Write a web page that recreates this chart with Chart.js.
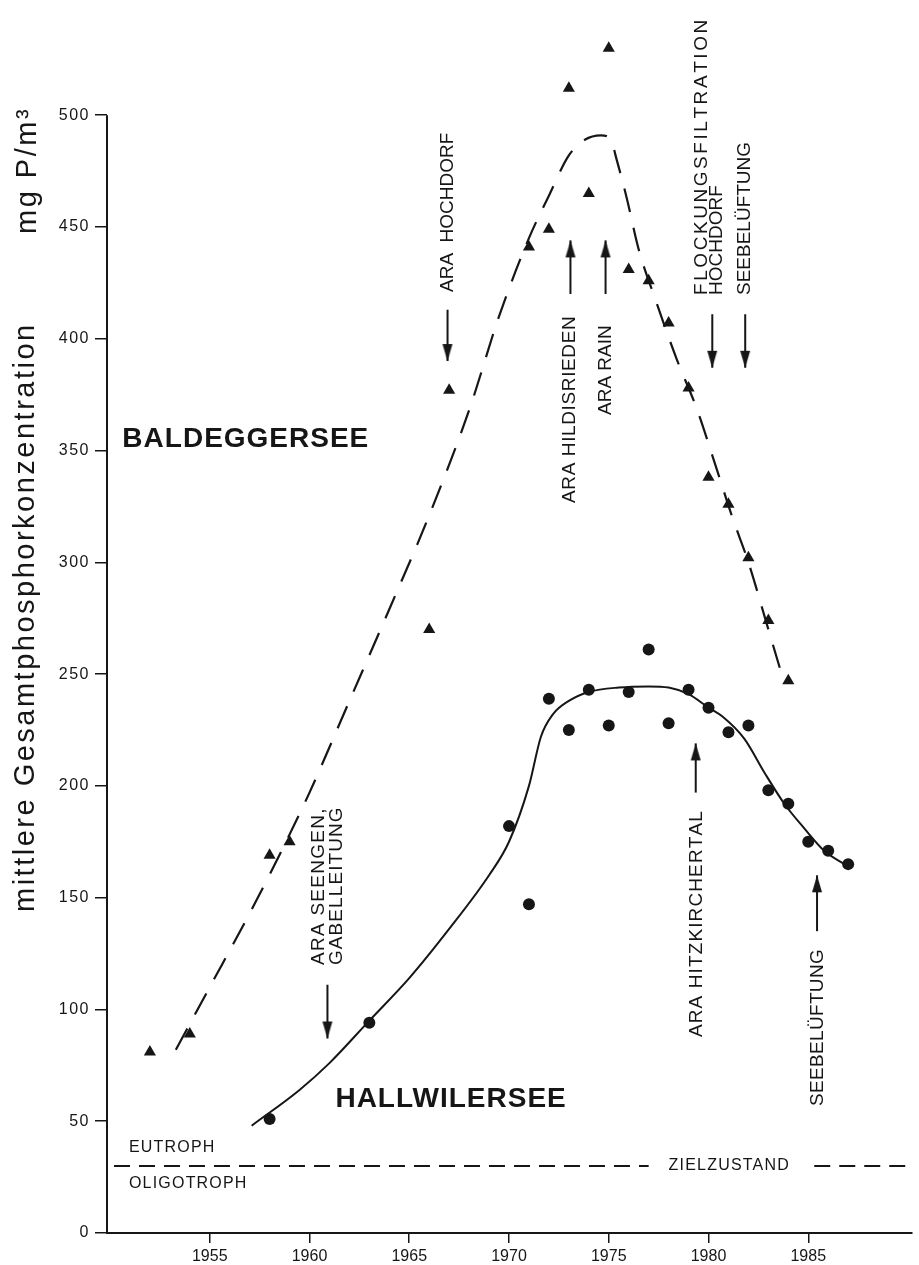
<!DOCTYPE html>
<html lang="de">
<head>
<meta charset="UTF-8">
<title>Gesamtphosphor Baldeggersee / Hallwilersee</title>
<script src="https://cdn.jsdelivr.net/npm/chart.js"></script>
<style>
    body { margin: 0; background: #ffffff; }
    #wrap { width: 919px; height: 1265px; position: relative; }
</style>
</head>
<body>
<div id="wrap"><canvas id="chart"></canvas></div>
<script>
// ---- Messwerte (Jahresmittel, mg P/m3) ----
var baldYears  = [1952, 1954, 1958, 1959, 1966, 1967, 1971, 1972, 1973, 1974, 1975, 1976, 1977, 1978, 1979, 1980, 1981, 1982, 1983, 1984];
var baldValues = [81, 89, 169, 175, 270, 377, 441, 449, 512, 465, 530, 431, 426, 407, 378, 338, 326, 302, 274, 247];
var hallYears  = [1958, 1963, 1970, 1971, 1972, 1973, 1974, 1975, 1976, 1977, 1978, 1979, 1980, 1981, 1982, 1983, 1984, 1985, 1986, 1987];
var hallValues = [51, 94, 182, 147, 239, 225, 243, 227, 242, 261, 228, 243, 235, 224, 227, 198, 192, 175, 171, 165];

// ---- Ausgleichskurven (von Hand gezeichnet) ----
var baldCurveX = [1953.3, 1955, 1957, 1958.6, 1960, 1962, 1964, 1966, 1968, 1969.5, 1971, 1972, 1973, 1973.8, 1974.6, 1975.1, 1975.4, 1975.9, 1976.5, 1977.4, 1978.4, 1979.4, 1980.4, 1981.2, 1982, 1983, 1983.6];
var baldCurveY = [82, 110, 143, 171, 197, 238, 279, 321, 368, 410, 445, 464, 482, 489, 491, 489, 480, 463, 440, 416, 391, 369, 342, 320, 300, 270, 252];
var hallCurveX = [1957.1, 1959.5, 1961, 1963, 1965, 1967, 1969, 1970, 1971, 1971.6, 1972.2, 1973, 1974, 1975.5, 1977, 1978, 1979, 1980, 1980.7, 1981.8, 1982.8, 1983.8, 1984.8, 1985.8, 1987];
var hallCurveY = [48, 64, 76, 95, 114, 136, 160, 175, 200, 222, 232, 238, 242, 244, 244.5, 244, 241, 235, 231, 221, 206, 192, 181, 171, 164];

// Zielzustand-Linie (Lücke für die Beschriftung)
var zielX = [1950.2, 1977.0, 1981.0, 1985.3, 1990.2];
var zielY = [30, 30, null, 30, 30];

var xTicks = [1955, 1960, 1965, 1970, 1975, 1980, 1985];
var yTicks = [0, 50, 100, 150, 200, 250, 300, 350, 400, 450, 500];

// Massnahmen: Pfeil (x, von, bis)
var arrowX    = [1966.92, 1973.08, 1974.84, 1980.19, 1981.84, 1960.9, 1979.36, 1985.44];
var arrowFrom = [413, 420, 420, 411, 411, 111, 197, 135];
var arrowTo   = [390, 444, 444, 387, 387, 87, 219, 160];

// senkrechte Beschriftungen (x, unteres und oberes Ende)
var vertText = ['ARA  HOCHDORF', 'ARA HILDISRIEDEN', 'ARA RAIN', 'FLOCKUNGSFILTRATION', 'HOCHDORF', 'SEEBELÜFTUNG',
                'ARA SEENGEN,', 'GABELLEITUNG', 'ARA HITZKIRCHERTAL', 'SEEBELÜFTUNG'];
var vertX      = [1966.92, 1973.08, 1974.84, 1979.69, 1980.44, 1981.81, 1960.5, 1961.4, 1979.44, 1985.5];
var vertBottom = [421, 326.5, 366, 419.5, 419.5, 419.5, 120, 120, 87.6, 56.6];
var vertTop    = [491, 410, 405.5, 542.6, 461.5, 487.3, 190, 190.5, 188.6, 126.7];

var ink = '#161616';
var font = "'Liberation Sans', Arial, sans-serif";

function makeHead() {
    var c = document.createElement('canvas');
    c.width = 12; c.height = 36;
    var g = c.getContext('2d');
    g.fillStyle = ink;
    g.beginPath();
    g.moveTo(6, 18); g.lineTo(11, 35); g.lineTo(1, 35);
    g.closePath(); g.fill();
    return c;
}
var head = makeHead();

function pts(xs, ys) {
    return xs.map(function (x, i) { return { x: x, y: ys[i] }; });
}

var datasets = [
    {
        label: 'Baldeggersee Kurve', data: pts(baldCurveX, baldCurveY), showLine: true,
        borderColor: ink, borderWidth: 2.2, borderDash: [24, 16], pointRadius: 0,
        cubicInterpolationMode: 'monotone', clip: false
    },
    {
        label: 'Hallwilersee Kurve', data: pts(hallCurveX, hallCurveY), showLine: true,
        borderColor: ink, borderWidth: 2, pointRadius: 0,
        cubicInterpolationMode: 'monotone', clip: false
    },
    {
        label: 'Zielzustand', data: pts(zielX, zielY), showLine: true, spanGaps: false,
        borderColor: ink, borderWidth: 2, borderDash: [16, 9], pointRadius: 0, clip: false
    },
    {
        label: 'Baldeggersee', data: pts(baldYears, baldValues), pointStyle: 'triangle',
        pointRadius: 7, backgroundColor: ink, borderColor: ink, borderWidth: 0, clip: false
    },
    {
        label: 'Hallwilersee', data: pts(hallYears, hallValues), pointStyle: 'circle',
        pointRadius: 6, backgroundColor: ink, borderColor: ink, borderWidth: 0, clip: false
    }
];

arrowX.forEach(function (x, i) {
    var up = arrowTo[i] > arrowFrom[i];
    datasets.push({
        label: 'Pfeil ' + i,
        data: [{ x: x, y: arrowFrom[i] }, { x: x, y: arrowTo[i] }],
        showLine: true, borderColor: ink, borderWidth: 2,
        pointStyle: [false, head], pointRadius: [0, 5], pointRotation: [0, up ? 0 : 180],
        clip: false
    });
});

// y-Beschriftung leicht gesperrt wie im Original
function spaceLabels(scale, spacing) {
    if (scale._spaced) return;
    var orig = scale.drawLabels.bind(scale);
    scale.drawLabels = function (area) {
        var ctx = scale.ctx;
        ctx.save();
        ctx.letterSpacing = spacing;
        orig(area);
        ctx.restore();
    };
    scale._spaced = true;
}

// Buchstabe für Buchstabe, damit die Sperrung gleichmässig bleibt
function spacedText(ctx, t, len) {
    var widths = t.split('').map(function (c) { return ctx.measureText(c).width; });
    var total = widths.reduce(function (a, b) { return a + b; }, 0);
    var gap = Math.max(0, (len - total) / (t.length - 1));
    var pos = 0;
    t.split('').forEach(function (c, i) {
        ctx.fillText(c, pos, 0);
        pos += widths[i] + gap;
    });
}

var textPlugin = {
    id: 'texte',
    afterLayout: function (chart) {
        spaceLabels(chart.scales.y, '1.5px');
    },
    afterDraw: function (chart) {
        var ctx = chart.ctx;
        var xs = chart.scales.x, ys = chart.scales.y;
        ctx.save();
        ctx.fillStyle = ink;
        ctx.strokeStyle = ink;

        // y-Achse nur bis 500
        ctx.lineWidth = 2;
        ctx.beginPath();
        ctx.moveTo(xs.left, ys.getPixelForValue(0) + 1);
        ctx.lineTo(xs.left, ys.getPixelForValue(500));
        ctx.stroke();

        ctx.font = '19px ' + font;
        ctx.letterSpacing = '0px';
        ctx.textAlign = 'left';
        ctx.textBaseline = 'middle';
        vertText.forEach(function (t, i) {
            var y0 = ys.getPixelForValue(vertBottom[i]);
            var len = y0 - ys.getPixelForValue(vertTop[i]);
            ctx.save();
            ctx.translate(Math.round(xs.getPixelForValue(vertX[i])), Math.round(y0));
            ctx.rotate(-Math.PI / 2);
            spacedText(ctx, t, len);
            ctx.restore();
        });

        // Seenamen
        ctx.font = 'bold 28px ' + font;
        ctx.letterSpacing = '1px';
        ctx.fillText('BALDEGGERSEE', xs.getPixelForValue(1950.62), ys.getPixelForValue(355));
        ctx.fillText('HALLWILERSEE', xs.getPixelForValue(1961.3), ys.getPixelForValue(60));

        // Trophie
        ctx.font = '16px ' + font;
        ctx.letterSpacing = '1.2px';
        ctx.fillText('EUTROPH', xs.getPixelForValue(1950.95), ys.getPixelForValue(38));
        ctx.fillText('OLIGOTROPH', xs.getPixelForValue(1950.95), ys.getPixelForValue(22));
        ctx.fillText('ZIELZUSTAND', xs.getPixelForValue(1978.0), ys.getPixelForValue(30));

        // Achsentitel
        ctx.font = '29px ' + font;
        ctx.letterSpacing = '2.5px';
        ctx.textBaseline = 'alphabetic';
        ctx.save();
        ctx.translate(34, 912);
        ctx.rotate(-Math.PI / 2);
        ctx.fillText('mittlere Gesamtphosphorkonzentration', 0, 0);
        ctx.restore();
        ctx.save();
        ctx.translate(36, 234);
        ctx.rotate(-Math.PI / 2);
        ctx.fillText('mg P/m³', 0, 0);
        ctx.restore();

        ctx.restore();
    }
};

new Chart(document.getElementById('chart'), {
    type: 'scatter',
    data: { datasets: datasets },
    options: {
        responsive: true,
        maintainAspectRatio: false,
        animation: false,
        layout: { padding: { top: 1, right: 2, left: 0, bottom: 0 } },
        plugins: { legend: { display: false }, tooltip: { enabled: false } },
        scales: {
            x: {
                type: 'linear', min: 1949.85, max: 1990.2,
                afterBuildTicks: function (s) { s.ticks = xTicks.map(function (v) { return { value: v }; }); },
                afterFit: function (s) { s.height = 32; },
                grid: { drawOnChartArea: false, drawTicks: true, tickLength: 10, color: ink, lineWidth: 1.5 },
                border: { display: true, color: ink, width: 2 },
                ticks: { color: ink, padding: 4, maxRotation: 0, font: { size: 16, family: font },
                         callback: function (v) { return String(v); } }
            },
            y: {
                min: 0, max: 545,
                afterBuildTicks: function (s) { s.ticks = yTicks.map(function (v) { return { value: v }; }); },
                afterFit: function (s) { s.width = 107; },
                grid: { drawOnChartArea: false, drawTicks: true, tickLength: 12, color: ink, lineWidth: 1.5 },
                border: { display: false },
                ticks: { color: ink, padding: 5, font: { size: 16, family: font } }
            }
        }
    },
    plugins: [textPlugin]
});
</script>
</body>
</html>
